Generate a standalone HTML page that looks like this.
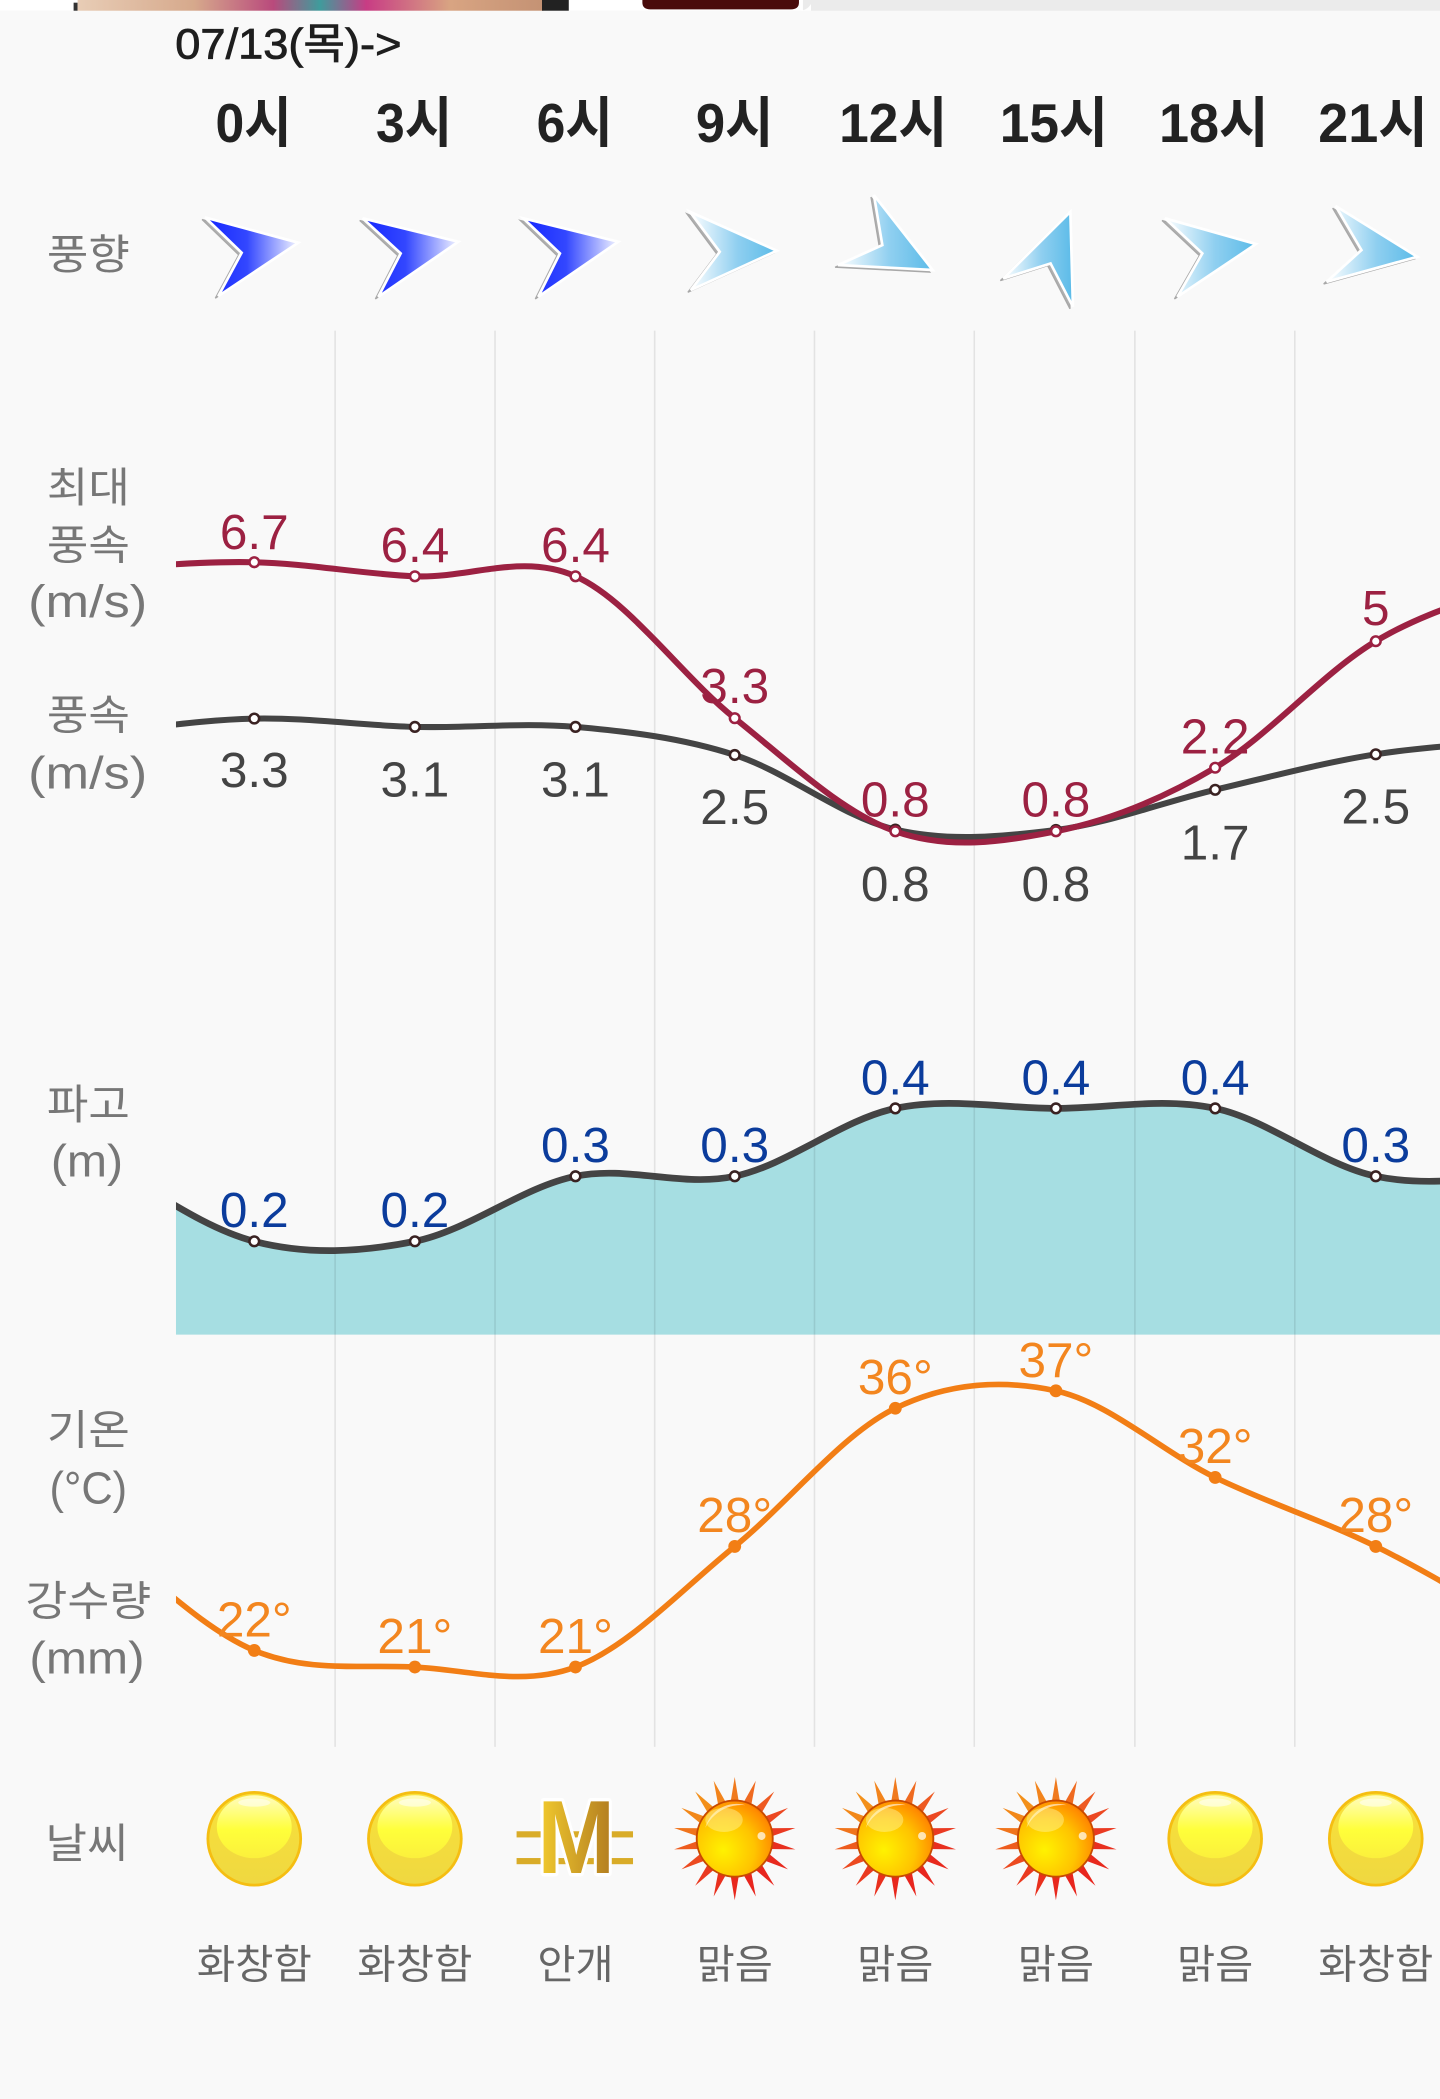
<!DOCTYPE html>
<html><head><meta charset="utf-8"><style>
html,body{margin:0;padding:0;background:#f9f9f9;width:1440px;height:2099px;overflow:hidden}
svg{display:block}
text{font-family:"Liberation Sans","Noto Sans CJK KR",sans-serif}
</style></head><body>
<svg width="1440" height="2099" viewBox="0 0 1076 1568" preserveAspectRatio="none" xmlns="http://www.w3.org/2000/svg">
<defs>
<linearGradient id="photo" x1="0" y1="0" x2="1" y2="0">
<stop offset="0" stop-color="#e8cdb6"/><stop offset="0.25" stop-color="#d6a98c"/><stop offset="0.42" stop-color="#b94a7c"/><stop offset="0.52" stop-color="#3f9c9c"/><stop offset="0.62" stop-color="#c83c84"/><stop offset="0.8" stop-color="#d8a482"/><stop offset="1" stop-color="#c49274"/>
</linearGradient>
<linearGradient id="gblue" x1="0" y1="0" x2="1" y2="0"><stop offset="0" stop-color="#1426ff"/><stop offset="0.45" stop-color="#3347ff"/><stop offset="1" stop-color="#f2f4ff"/></linearGradient>
<linearGradient id="glight" x1="0" y1="0" x2="1" y2="0"><stop offset="0" stop-color="#ffffff"/><stop offset="0.55" stop-color="#8fcff0"/><stop offset="1" stop-color="#5bbbe8"/></linearGradient>
<linearGradient id="ysun" x1="0" y1="0" x2="0" y2="1"><stop offset="0" stop-color="#f9e13a"/><stop offset="1" stop-color="#efd840"/></linearGradient>
<linearGradient id="ysunhi" x1="0" y1="0" x2="0" y2="1"><stop offset="0" stop-color="#fffcc0"/><stop offset="0.55" stop-color="#ffff3a"/><stop offset="1" stop-color="#fbf03c"/></linearGradient>
<radialGradient id="hsun" cx="0.35" cy="0.65" r="0.75"><stop offset="0" stop-color="#fff200"/><stop offset="0.55" stop-color="#ffc400"/><stop offset="0.9" stop-color="#ff8a00"/><stop offset="1" stop-color="#e86400"/></radialGradient>
<linearGradient id="gold" x1="0" y1="0" x2="1" y2="0"><stop offset="0" stop-color="#f3cc2e"/><stop offset="1" stop-color="#b07a20"/></linearGradient>
<clipPath id="plot"><rect x="131.5" y="240" width="945" height="1070"/></clipPath>
<g id="ysunicon">
<circle cx="0" cy="0" r="35.7" fill="#f5be12"/>
<circle cx="0" cy="0" r="33.6" fill="url(#ysun)"/>
<ellipse cx="0" cy="-9" rx="28" ry="23.5" fill="url(#ysunhi)"/>
<ellipse cx="0" cy="-27" rx="12" ry="3" fill="#ffffff" opacity="0.55"/>
</g>
<g id="hsunicon">
<polygon points="0,-46 3.3,-26 -3.3,-26" fill="#f07a1e"/>
<polygon points="0,-46 3.3,-26 -3.3,-26" fill="#ef6a20" transform="rotate(20)"/>
<polygon points="0,-46 3.3,-26 -3.3,-26" fill="#ee5a22" transform="rotate(40)"/>
<polygon points="0,-46 3.3,-26 -3.3,-26" fill="#ec4822" transform="rotate(60)"/>
<polygon points="0,-46 3.3,-26 -3.3,-26" fill="#ea3a22" transform="rotate(80)"/>
<polygon points="0,-46 3.3,-26 -3.3,-26" fill="#e8301f" transform="rotate(100)"/>
<polygon points="0,-46 3.3,-26 -3.3,-26" fill="#e82a1e" transform="rotate(120)"/>
<polygon points="0,-46 3.3,-26 -3.3,-26" fill="#e8261e" transform="rotate(140)"/>
<polygon points="0,-46 3.3,-26 -3.3,-26" fill="#e8261e" transform="rotate(160)"/>
<polygon points="0,-46 3.3,-26 -3.3,-26" fill="#e8281e" transform="rotate(180)"/>
<polygon points="0,-46 3.3,-26 -3.3,-26" fill="#e9301e" transform="rotate(200)"/>
<polygon points="0,-46 3.3,-26 -3.3,-26" fill="#ea3a20" transform="rotate(220)"/>
<polygon points="0,-46 3.3,-26 -3.3,-26" fill="#ec4a20" transform="rotate(240)"/>
<polygon points="0,-46 3.3,-26 -3.3,-26" fill="#ee5c1e" transform="rotate(260)"/>
<polygon points="0,-46 3.3,-26 -3.3,-26" fill="#f0741c" transform="rotate(280)"/>
<polygon points="0,-46 3.3,-26 -3.3,-26" fill="#f2881a" transform="rotate(300)"/>
<polygon points="0,-46 3.3,-26 -3.3,-26" fill="#f3901a" transform="rotate(320)"/>
<polygon points="0,-46 3.3,-26 -3.3,-26" fill="#f2841c" transform="rotate(340)"/>
<circle cx="0" cy="0" r="28.4" fill="url(#hsun)" stroke="#c84a00" stroke-width="1.4"/>
<path d="M-22,-8 A24,24 0 0 1 8,-25 A30,30 0 0 0 -22,-8 Z" fill="#ffffff" opacity="0.6"/>
<ellipse cx="-8" cy="-14" rx="14" ry="9" fill="#fff6a0" opacity="0.45"/>
<circle cx="20" cy="-2" r="3" fill="#ffffff" opacity="0.7"/>
</g>
</defs>

<rect x="0" y="0" width="1076" height="1568" fill="#f9f9f9"/>

<rect x="0" y="0" width="1076" height="8" fill="#ebebeb"/>
<rect x="0" y="0" width="600" height="8" fill="#ffffff"/>
<rect x="61" y="0" width="10" height="2.5" fill="#2ab0e0"/>
<rect x="55" y="2" width="3" height="6" fill="#333"/>
<rect x="58" y="0" width="348" height="8" fill="url(#photo)"/>
<rect x="405" y="0" width="20" height="8" fill="#222"/>
<path d="M480,0 H597 V2 Q597,7 591,7 H486 Q480,7 480,2 Z" fill="#4a0c0c"/>
<path d="M597,8 Q603,8 606,3 L606,8 Z" fill="#ffffff"/>

<text x="131" y="43.6" font-size="32" fill="#1e1e1e" stroke="#1e1e1e" stroke-width="0.6" textLength="169" lengthAdjust="spacingAndGlyphs">07/13(목)-&gt;</text>
<g font-size="41" font-weight="bold" fill="#222" text-anchor="middle">
<text x="189.5" y="106" textLength="57" lengthAdjust="spacingAndGlyphs">0시</text>
<text x="309.5" y="106" textLength="57" lengthAdjust="spacingAndGlyphs">3시</text>
<text x="429.5" y="106" textLength="57" lengthAdjust="spacingAndGlyphs">6시</text>
<text x="549" y="106" textLength="58" lengthAdjust="spacingAndGlyphs">9시</text>
<text x="667.5" y="106" textLength="81" lengthAdjust="spacingAndGlyphs">12시</text>
<text x="787.5" y="106" textLength="81" lengthAdjust="spacingAndGlyphs">15시</text>
<text x="907" y="106" textLength="82" lengthAdjust="spacingAndGlyphs">18시</text>
<text x="1026" y="106" textLength="82" lengthAdjust="spacingAndGlyphs">21시</text>
</g>

<g font-size="31" fill="#777" text-anchor="middle">
<text x="66" y="201" textLength="62" lengthAdjust="spacingAndGlyphs">풍향</text>
<text x="66" y="375" textLength="62" lengthAdjust="spacingAndGlyphs">최대</text>
<text x="66" y="418" textLength="62" lengthAdjust="spacingAndGlyphs">풍속</text>
<text x="65.5" y="461" font-size="34" textLength="89" lengthAdjust="spacingAndGlyphs">(m/s)</text>
<text x="66" y="545" textLength="62" lengthAdjust="spacingAndGlyphs">풍속</text>
<text x="65.5" y="589" font-size="34" textLength="89" lengthAdjust="spacingAndGlyphs">(m/s)</text>
<text x="66" y="836" textLength="62" lengthAdjust="spacingAndGlyphs">파고</text>
<text x="65" y="879" font-size="34" textLength="54" lengthAdjust="spacingAndGlyphs">(m)</text>
<text x="66" y="1079" textLength="62" lengthAdjust="spacingAndGlyphs">기온</text>
<text x="66" y="1123" font-size="34" textLength="58" lengthAdjust="spacingAndGlyphs">(°C)</text>
<text x="66" y="1207" textLength="94" lengthAdjust="spacingAndGlyphs">강수량</text>
<text x="65" y="1250" font-size="34" textLength="86" lengthAdjust="spacingAndGlyphs">(mm)</text>
<text x="65" y="1388" textLength="62" lengthAdjust="spacingAndGlyphs">날씨</text>
</g>

<g stroke-linejoin="miter">
<g transform="translate(-2.2,1.6)" fill="#b0b0b0" stroke="#a8a8a8" stroke-width="1">
<polygon points="153.2,162.4 222.9,181.3 163.1,221.2 180.6,188.8"/>
<polygon points="271,163.1 342.5,180.6 282.7,221.7 299.4,189.3"/>
<polygon points="391,163.1 462,180.6 402.2,221.7 418.4,189.3"/>
<polygon points="515.5,158.2 580.5,187.3 516.2,216.7 537.8,188.1"/>
<polygon points="653,145.7 696.9,201.7 626.2,198 659.3,183.1"/>
<polygon points="799.8,158.2 801.7,229.1 785,196.8 749.7,208"/>
<polygon points="870.5,163.1 938.5,182.3 879.8,221.7 898.4,189.3"/>
<polygon points="998,153.9 1059,191.8 991.3,210.5 1017.3,186.8"/>
</g>
<g stroke="#ffffff" stroke-width="2">
<polygon points="153.2,162.4 222.9,181.3 163.1,221.2 180.6,188.8" fill="url(#gblue)"/>
<polygon points="271,163.1 342.5,180.6 282.7,221.7 299.4,189.3" fill="url(#gblue)"/>
<polygon points="391,163.1 462,180.6 402.2,221.7 418.4,189.3" fill="url(#gblue)"/>
<polygon points="515.5,158.2 580.5,187.3 516.2,216.7 537.8,188.1" fill="url(#glight)"/>
<polygon points="653,145.7 696.9,201.7 626.2,198 659.3,183.1" fill="url(#glight)"/>
<polygon points="799.8,158.2 801.7,229.1 785,196.8 749.7,208" fill="url(#glight)"/>
<polygon points="870.5,163.1 938.5,182.3 879.8,221.7 898.4,189.3" fill="url(#glight)"/>
<polygon points="998,153.9 1059,191.8 991.3,210.5 1017.3,186.8" fill="url(#glight)"/>
</g>
</g>

<g clip-path="url(#plot)">
<path d="M70,865 C110,885.77 150,916.92 190,927.3 C230,937.68 270,935.4 310,927.3 C350,919.2 390.2,886.8 430,878.7 C469.8,870.6 509.2,887.15 549,878.7 C588.8,870.25 629,836.45 669,828 C709,819.55 749.2,828 789,828 C828.8,828 868.2,819.55 908,828 C948,836.45 988,870.25 1028,878.7 C1068,887.15 1108,878.7 1148,878.7 L1148,997 L70,997 Z" fill="#a6dee2"/>
</g>

<g stroke="#000" stroke-opacity="0.085" stroke-width="1.2">
<line x1="250.4" y1="247" x2="250.4" y2="1305"/>
<line x1="369.9" y1="247" x2="369.9" y2="1305"/>
<line x1="489.2" y1="247" x2="489.2" y2="1305"/>
<line x1="608.6" y1="247" x2="608.6" y2="1305"/>
<line x1="728" y1="247" x2="728" y2="1305"/>
<line x1="848" y1="247" x2="848" y2="1305"/>
<line x1="967.5" y1="247" x2="967.5" y2="1305"/>
</g>

<g clip-path="url(#plot)" fill="none" stroke-linecap="round">
<path d="M70,548 C110,544.27 150,537.63 190,536.8 C230,535.97 270,541.97 310,543 C350,544.03 390.2,539.5 430,543 C469.8,546.5 509.2,551.22 549,564 C588.8,576.78 629,610.37 669,619.7 C709,629.03 749.2,624.95 789,620 C828.8,615.05 868.2,599.42 908,590 C948,580.58 988,569.83 1028,563.5 C1068,557.17 1108,555.83 1148,552" stroke="#444" stroke-width="4.5"/>
<path d="M70,425 C110,423.3 150,419.1 190,420 C230,420.9 270,428.75 310,430.5 C350,432.25 390.2,412.83 430,430.5 C469.8,448.17 509.2,504.75 549,536.5 C588.8,568.25 629,606.92 669,621 C709,635.08 749.2,628.92 789,621 C828.8,613.08 868.2,597.17 908,573.5 C948,549.83 988,502.92 1028,479 C1068,455.08 1108,446.3 1148,430" stroke="#9c2142" stroke-width="4.5"/>
<path d="M70,865 C110,885.77 150,916.92 190,927.3 C230,937.68 270,935.4 310,927.3 C350,919.2 390.2,886.8 430,878.7 C469.8,870.6 509.2,887.15 549,878.7 C588.8,870.25 629,836.45 669,828 C709,819.55 749.2,828 789,828 C828.8,828 868.2,819.55 908,828 C948,836.45 988,870.25 1028,878.7 C1068,887.15 1108,878.7 1148,878.7" stroke="#444" stroke-width="5"/>
<path d="M70,1145 C110,1174.3 150,1216.18 190,1232.9 C230,1249.62 270,1243.23 310,1245.3 C350,1247.37 390.2,1260.32 430,1245.3 C469.8,1230.28 509.2,1187.42 549,1155.2 C588.8,1122.98 629,1071.37 669,1052 C709,1032.63 749.2,1030.38 789,1039 C828.8,1047.62 868.2,1084.33 908,1103.7 C948,1123.07 988,1135.48 1028,1155.2 C1068,1174.92 1108,1199.73 1148,1222" stroke="#f27e15" stroke-width="4.2"/>
</g>

<g fill="#ffffff" stroke="#3a2222" stroke-width="1.9">
<circle cx="190" cy="536.8" r="3.6"/><circle cx="310" cy="543" r="3.6"/><circle cx="430" cy="543" r="3.6"/><circle cx="549" cy="564" r="3.6"/><circle cx="669" cy="619.7" r="3.6"/><circle cx="789" cy="620" r="3.6"/><circle cx="908" cy="590" r="3.6"/><circle cx="1028" cy="563.5" r="3.6"/>
<circle cx="190" cy="927.3" r="3.6"/><circle cx="310" cy="927.3" r="3.6"/><circle cx="430" cy="878.7" r="3.6"/><circle cx="549" cy="878.7" r="3.6"/><circle cx="669" cy="828" r="3.6"/><circle cx="789" cy="828" r="3.6"/><circle cx="908" cy="828" r="3.6"/><circle cx="1028" cy="878.7" r="3.6"/>
</g>
<g fill="#ffffff" stroke="#9c2142" stroke-width="1.9">
<circle cx="190" cy="420" r="3.6"/><circle cx="310" cy="430.5" r="3.6"/><circle cx="430" cy="430.5" r="3.6"/><circle cx="549" cy="536.5" r="3.6"/><circle cx="669" cy="621" r="3.6"/><circle cx="789" cy="621" r="3.6"/><circle cx="908" cy="573.5" r="3.6"/><circle cx="1028" cy="479" r="3.6"/>
</g>
<g fill="#f27e15">
<circle cx="190" cy="1232.9" r="4.8"/><circle cx="310" cy="1245.3" r="4.8"/><circle cx="430" cy="1245.3" r="4.8"/><circle cx="549" cy="1155.2" r="4.8"/><circle cx="669" cy="1052" r="4.8"/><circle cx="789" cy="1039" r="4.8"/><circle cx="908" cy="1103.7" r="4.8"/><circle cx="1028" cy="1155.2" r="4.8"/>
</g>

<g font-size="37" text-anchor="middle" fill="#9c2142">
<text x="190" y="410">6.7</text><text x="310" y="420">6.4</text><text x="430" y="420">6.4</text><text x="549" y="525">3.3</text><text x="669" y="610">0.8</text><text x="789" y="610">0.8</text><text x="908" y="563">2.2</text><text x="1028" y="467">5</text>
</g>
<g font-size="37" text-anchor="middle" fill="#444">
<text x="190" y="588">3.3</text><text x="310" y="595">3.1</text><text x="430" y="595">3.1</text><text x="549" y="615.5">2.5</text><text x="669" y="673">0.8</text><text x="789" y="673">0.8</text><text x="908" y="642">1.7</text><text x="1028" y="615">2.5</text>
</g>
<g font-size="37" text-anchor="middle" fill="#0b3c9c">
<text x="190" y="916.6">0.2</text><text x="310" y="916.6">0.2</text><text x="430" y="868">0.3</text><text x="549" y="868">0.3</text><text x="669" y="817.5">0.4</text><text x="789" y="817.5">0.4</text><text x="908" y="817.5">0.4</text><text x="1028" y="868">0.3</text>
</g>
<g font-size="37" text-anchor="middle" fill="#f3861f">
<text x="190" y="1222.4">22°</text><text x="310" y="1235">21°</text><text x="430" y="1235">21°</text><text x="549" y="1144.6">28°</text><text x="669" y="1041.5">36°</text><text x="789" y="1028.5">37°</text><text x="908" y="1093">32°</text><text x="1028" y="1144.6">28°</text>
</g>

<use href="#ysunicon" x="190" y="1373.6"/>
<use href="#ysunicon" x="310" y="1373.6"/>
<use href="#ysunicon" x="908" y="1373.6"/>
<use href="#ysunicon" x="1028" y="1373.6"/>
<use href="#hsunicon" x="549" y="1373.5"/>
<use href="#hsunicon" x="669" y="1373.5"/>
<use href="#hsunicon" x="789" y="1373.5"/>
<g>
<rect x="386" y="1368" width="87" height="4.6" fill="#d9ac28"/>
<rect x="386" y="1388" width="87" height="4.6" fill="#d9ac28"/>
<text x="430.5" y="1399" font-size="78" font-weight="bold" text-anchor="middle" textLength="58" lengthAdjust="spacingAndGlyphs" fill="url(#gold)" stroke="#ffffff" stroke-width="5" paint-order="stroke" stroke-linejoin="round">M</text>
</g>

<g font-size="30" fill="#666" text-anchor="middle">
<text x="190" y="1478" textLength="86" lengthAdjust="spacingAndGlyphs">화창함</text>
<text x="310" y="1478" textLength="86" lengthAdjust="spacingAndGlyphs">화창함</text>
<text x="430" y="1478" textLength="57" lengthAdjust="spacingAndGlyphs">안개</text>
<text x="549" y="1478" textLength="57" lengthAdjust="spacingAndGlyphs">맑음</text>
<text x="669" y="1478" textLength="57" lengthAdjust="spacingAndGlyphs">맑음</text>
<text x="789" y="1478" textLength="57" lengthAdjust="spacingAndGlyphs">맑음</text>
<text x="908" y="1478" textLength="57" lengthAdjust="spacingAndGlyphs">맑음</text>
<text x="1028" y="1478" textLength="86" lengthAdjust="spacingAndGlyphs">화창함</text>
</g>
</svg>
</body></html>
